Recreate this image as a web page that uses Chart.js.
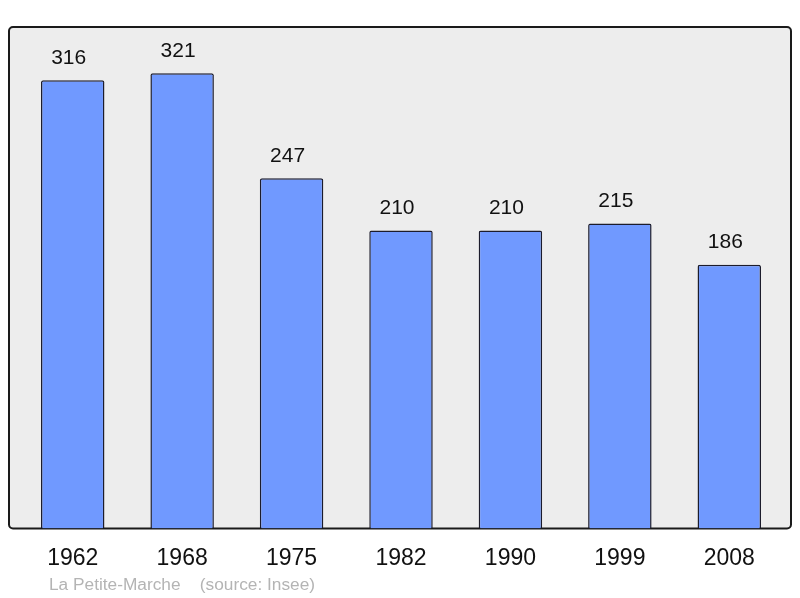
<!DOCTYPE html>
<html>
<head>
<meta charset="utf-8">
<script src="https://cdn.jsdelivr.net/npm/chart.js@4/dist/chart.umd.min.js"></script>
<style>
  html, body { margin: 0; padding: 0; background: #fff; }
  #wrap { width: 800px; height: 598px; }
</style>
</head>
<body>
<div id="wrap"><canvas id="popChart" width="800" height="598"></canvas></div>
<script>
const years = ['1962', '1968', '1975', '1982', '1990', '1999', '2008'];
const population = [316, 321, 247, 210, 210, 215, 186];
const footerText = 'La Petite-Marche    (source: Insee)';

// grey panel with black border behind the bars
const panelBg = {
    id: 'panelBg',
    beforeDraw(chart) {
        const { ctx, chartArea } = chart;
        const x = chartArea.left - 9, y = chartArea.top;
        const w = chartArea.right + 7 - x, h = chartArea.bottom - y;
        ctx.save();
        ctx.beginPath();
        ctx.roundRect(x, y, w, h, 4);
        ctx.fillStyle = '#ededed';
        ctx.fill();
        ctx.lineWidth = 2;
        ctx.strokeStyle = '#1a1a1a';
        ctx.stroke();
        ctx.restore();
    }
};

// value above each bar + source line
const barValues = {
    id: 'barValues',
    afterDatasetsDraw(chart) {
        const { ctx } = chart;
        const meta = chart.getDatasetMeta(0);
        ctx.save();
        ctx.font = '21px "Liberation Sans", Arial, sans-serif';
        ctx.fillStyle = '#111';
        ctx.textAlign = 'center';
        ctx.textBaseline = 'middle';
        meta.data.forEach((bar, i) => {
            ctx.fillText(population[i], bar.x - 4, bar.y - 22);
        });
        ctx.font = '17.3px "Liberation Sans", Arial, sans-serif';
        ctx.fillStyle = '#b4b4b4';
        ctx.textAlign = 'left';
        ctx.fillText(footerText, 49, 585);
        ctx.restore();
    }
};

new Chart(document.getElementById('popChart'), {
    type: 'bar',
    data: {
        labels: years,
        datasets: [{
            data: population,
            backgroundColor: '#7099ff',
            borderColor: '#1c1c2c',
            borderWidth: 1.5,
            borderRadius: 2,
            borderSkipped: 'bottom',
            barPercentage: 0.58,
            categoryPercentage: 1
        }]
    },
    options: {
        responsive: false,
        animation: false,
        layout: { padding: { left: 18, right: 16, top: 27, bottom: 10 } },
        plugins: { legend: { display: false }, tooltip: { enabled: false } },
        scales: {
            x: {
                grid: { display: false, drawTicks: false },
                border: { display: false },
                ticks: {
                    color: '#111',
                    padding: 16,
                    font: { size: 23, family: '"Liberation Sans", Arial, sans-serif' }
                }
            },
            y: { display: false, min: 0, max: 353.6 }
        }
    },
    plugins: [panelBg, barValues]
});
</script>
</body>
</html>
